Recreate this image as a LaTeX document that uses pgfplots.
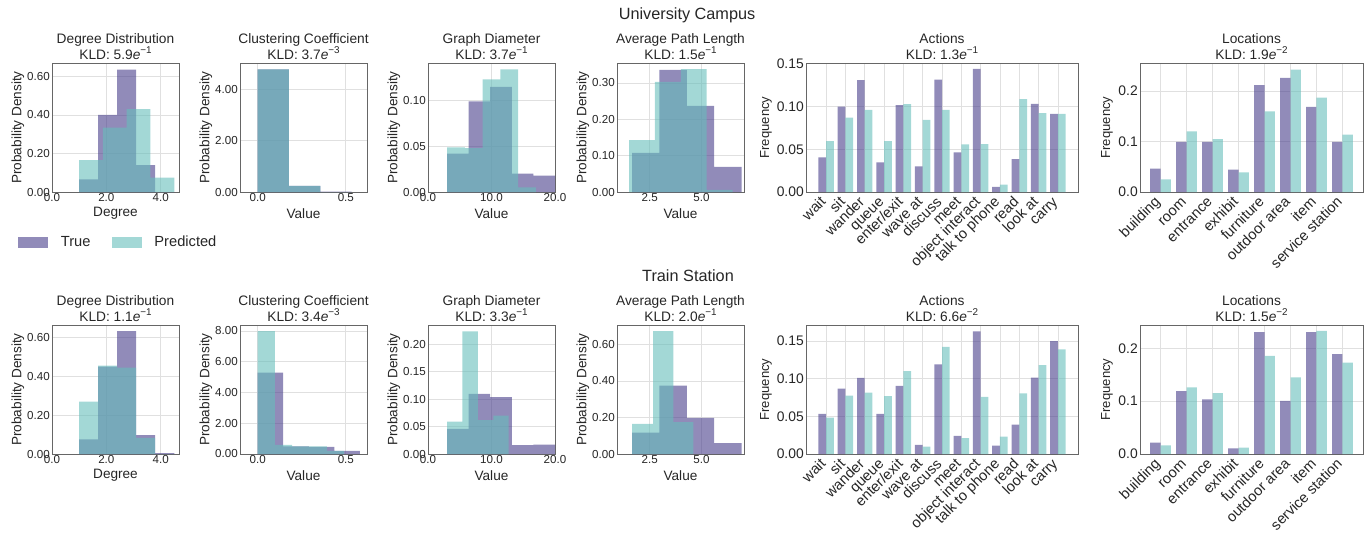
\documentclass[border=0pt]{standalone}
\usepackage{pgfplots}
\usepackage{pgfplotstable}
\pgfplotsset{compat=1.18}
\usepackage{fontspec}
\setmainfont{Liberation Sans}
\setsansfont{Liberation Sans}

\definecolor{trueC}{RGB}{72,61,139}
\definecolor{predC}{RGB}{102,190,187}
\definecolor{txt}{RGB}{38,38,38}

\newcommand{\kld}[2]{KLD: #1\textit{e}\raisebox{0.45em}{\fontsize{7.4}{8}\selectfont −#2}}

\pgfplotsset{
  panel/.style={
    scale only axis, height=96.75pt, anchor=north west,
    axis line style={draw=black!60, line width=0.7pt},
    grid=major, grid style={black!12, line width=0.6pt},
    major tick length=0pt, ymin=0,
    /pgf/number format/assume math mode=true,
    tick label style={font=\fontsize{8.7}{10}\selectfont, text=txt},
    yticklabel style={inner xsep=1.5pt},
    label style={font=\fontsize{10.2}{12}\selectfont, text=txt},
    title style={font=\fontsize{10.3}{12.3}\selectfont, text=txt, align=center, yshift=-7pt},
  },
  hist/.style={panel, width=95.25pt, ylabel={Probability Density},
    ylabel style={at={(axis description cs:-0.268,0.5)}, anchor=center},
    xlabel style={at={(axis description cs:0.5,-0.165)}, anchor=center},
    xticklabel style={inner ysep=1pt},
    yticklabel style={/pgf/number format/.cd, fixed, fixed zerofill, precision=2},
    xticklabel style={/pgf/number format/.cd, fixed, fixed zerofill, precision=1},
  },
  bars/.style={panel, ylabel={Frequency},
    ylabel style={font=\fontsize{9.8}{11}\selectfont, anchor=center},
    tick label style={font=\fontsize{10.4}{12}\selectfont},
    xticklabel style={yshift=-8pt, xshift=0.5pt, rotate=45, anchor=base east, inner sep=0pt,
      font=\fontsize{11}{12}\selectfont},
    yticklabel style={/pgf/number format/.cd, fixed, fixed zerofill, precision=2},
  },
  tr/.style={ybar interval, fill=trueC, fill opacity=0.6, draw=none},
  pr/.style={ybar interval, fill=predC, fill opacity=0.6, draw=none},
  tb/.style={ybar, bar width=0.4, bar shift=0pt, fill=trueC, fill opacity=0.6, draw=none},
  pb/.style={ybar, bar width=0.4, bar shift=0pt, fill=predC, fill opacity=0.6, draw=none},
}

% actions: true / predicted frequencies
\pgfplotstableread{
i t p
0  0.0405 0.0597
1  0.1000 0.0872
2  0.1310 0.0962
3  0.0346 0.0597
4  0.1017 0.1030
5  0.0300 0.0844
6  0.1316 0.0962
7  0.0463 0.0558
8  0.1440 0.0560
9  0.0059 0.0086
10 0.0385 0.1088
11 0.1033 0.0923
12 0.0915 0.0915
}\actTop
\pgfplotstableread{
i t p
0  0.0534 0.0485
1  0.0868 0.0775
2  0.1010 0.0815
3  0.0534 0.0770
4  0.0904 0.1100
5  0.0120 0.0098
6  0.1190 0.1425
7  0.0240 0.0210
8  0.1630 0.0760
9  0.0110 0.0230
10 0.0390 0.0806
11 0.1015 0.1180
12 0.1500 0.1390
}\actBot
\pgfplotstableread{
i t p
0 0.0464 0.0252
1 0.0993 0.1205
2 0.0993 0.1050
3 0.0444 0.0390
4 0.2120 0.1600
5 0.2265 0.2430
6 0.1690 0.1874
7 0.0993 0.1140
}\locTop
\pgfplotstableread{
i t p
0 0.0216 0.0165
1 0.1190 0.1260
2 0.1035 0.1150
3 0.0108 0.0120
4 0.2305 0.1854
5 0.1003 0.1448
6 0.2305 0.2330
7 0.1890 0.1730
}\locBot

\def\actnames{wait,sit,wander,queue,enter/exit,wave at,discuss,meet,object interact,talk to phone,read,look at,carry}
\def\locnames{building,room,entrance,exhibit,furniture,outdoor area,item,service station}

\begin{document}
\begin{tikzpicture}
\path[use as bounding box] (0,0) rectangle (1026.75pt,-399.75pt);

\node[font=\fontsize{12.2}{14}\selectfont, text=txt] at (515.25pt,-11.25pt) {University Campus};
\node[font=\fontsize{12.2}{14}\selectfont, text=txt] at (516pt,-207pt) {Train Station};

% ---------------- top row ----------------
\begin{axis}[hist, at={(39pt,-47.25pt)}, xmin=0, xmax=4.675, ymax=0.67,
  xtick={0,2,4}, ytick={0,0.2,0.4,0.6}, xlabel={Degree},
  title={Degree Distribution\\\kld{5.9}{1}},
  legend style={at={(-0.30,-0.388)}, anchor=west, draw=none, fill=none,
    font=\fontsize{11}{13}\selectfont, text=txt, legend columns=2,
    /tikz/every even column/.append style={column sep=14pt}},
  legend image code/.code={\fill[#1, draw=none] (0pt,-4.1pt) rectangle (22.5pt,4.1pt); \path[draw=none, fill=none] (22.5pt,0pt) -- (30pt,0pt);}]
\addplot[tr, forget plot] coordinates {(1,0.065) (1.7,0.40) (2.4,0.635) (3.1,0.14) (3.8,0) (4.5,0)};
\addplot[pr, forget plot] coordinates {(1,0.165) (1.875,0.335) (2.75,0.43) (3.625,0.075) (4.5,0)};
\addlegendimage{fill=trueC, fill opacity=0.6}
\addlegendentry{True}
\addlegendimage{fill=predC, fill opacity=0.6}
\addlegendentry{Predicted}
\end{axis}

\begin{axis}[hist, at={(180pt,-47.25pt)}, xmin=-0.1, xmax=0.62, ymax=5.03,
  xtick={0,0.5}, ytick={0,2,4}, xlabel={Value},
  title={Clustering Coefficient\\\kld{3.7}{3}}]
\addplot[tr] coordinates {(0,4.78) (0.177,0.24) (0.355,0.012) (0.533,0)};
\addplot[pr] coordinates {(0,4.78) (0.177,0.24) (0.355,0.0) (0.533,0)};
\end{axis}

\begin{axis}[hist, at={(321pt,-47.25pt)}, xmin=0, xmax=20, ymax=0.141,
  xtick={0,10,20}, ytick={0,0.05,0.1}, xlabel={Value},
  title={Graph Diameter\\\kld{3.7}{1}}]
\addplot[tr] coordinates {(3,0.042) (6.4,0.099) (9.8,0.115) (13.2,0.02) (16.6,0.018) (20,0)};
\addplot[pr] coordinates {(3,0.0487) (5.8,0.048) (8.6,0.123) (11.4,0.134) (14.2,0.005) (17,0)};
\end{axis}

\begin{axis}[hist, at={(462.75pt,-47.25pt)}, xmin=0.92, xmax=7.05, ymax=0.355,
  xtick={2.5,5}, ytick={0,0.1,0.2,0.3}, xlabel={Value},
  title={Average Path Length\\\kld{1.5}{1}}]
\addplot[tr] coordinates {(1.645,0.108) (2.97,0.336) (4.29,0.237) (5.61,0.069) (6.94,0)};
\addplot[pr] coordinates {(1.5,0.143) (2.75,0.303) (4.0,0.338) (5.25,0.006) (6.5,0)};
\end{axis}

\begin{axis}[bars, at={(604.5pt,-47.25pt)}, width=204pt, xmin=-1.04, xmax=13.04, ymax=0.151,
  ylabel style={at={(axis description cs:-0.147,0.5)}},
  xtick={0,...,12}, xticklabels/.expand once=\actnames, ytick={0,0.05,0.1,0.15},
  title={Actions\\\kld{1.3}{1}}]
\addplot[tb] table[x expr=\thisrow{i}-0.2, y=t] {\actTop};
\addplot[pb] table[x expr=\thisrow{i}+0.2, y=p] {\actTop};
\end{axis}

\begin{axis}[bars, at={(855pt,-47.25pt)}, width=167.25pt, xmin=-0.79, xmax=7.79, ymax=0.256,
  ylabel style={at={(axis description cs:-0.148,0.5)}},
  xtick={0,...,7}, xticklabels/.expand once=\locnames, ytick={0,0.1,0.2},
  yticklabel style={/pgf/number format/precision=1},
  title={Locations\\\kld{1.9}{2}}]
\addplot[tb] table[x expr=\thisrow{i}-0.2, y=t] {\locTop};
\addplot[pb] table[x expr=\thisrow{i}+0.2, y=p] {\locTop};
\end{axis}

% ---------------- bottom row ----------------
\begin{axis}[hist, at={(39pt,-243.75pt)}, xmin=0, xmax=4.675, ymax=0.665,
  xtick={0,2,4}, ytick={0,0.2,0.4,0.6}, xlabel={Degree},
  title={Degree Distribution\\\kld{1.1}{1}}]
\addplot[tr] coordinates {(1,0.076) (1.7,0.45) (2.4,0.633) (3.1,0.098) (3.8,0.005) (4.5,0)};
\addplot[pr] coordinates {(1,0.27) (1.7,0.455) (2.4,0.445) (3.1,0.083) (3.8,0) (4.5,0)};
\end{axis}

\begin{axis}[hist, at={(180pt,-243.75pt)}, xmin=-0.1, xmax=0.62, ymax=8.39,
  xtick={0,0.5}, ytick={0,2,4,6,8}, xlabel={Value},
  title={Clustering Coefficient\\\kld{3.4}{3}}]
\addplot[tr] coordinates {(0,5.3) (0.145,0.5) (0.29,0.47) (0.435,0.2) (0.58,0)};
\addplot[pr] coordinates {(0,8.0) (0.098,0.6) (0.196,0.5) (0.294,0.5) (0.392,0.2) (0.49,0)};
\end{axis}

\begin{axis}[hist, at={(321pt,-243.75pt)}, xmin=0, xmax=20, ymax=0.2355,
  xtick={0,10,20}, ytick={0,0.05,0.1,0.15,0.2}, xlabel={Value},
  title={Graph Diameter\\\kld{3.3}{1}}]
\addplot[tr] coordinates {(3,0.046) (6.4,0.11) (9.8,0.104) (13.2,0.016) (16.6,0.017) (20,0)};
\addplot[pr] coordinates {(3,0.059) (5.43,0.224) (7.86,0.062) (10.29,0.07) (12.71,0)};
\end{axis}

\begin{axis}[hist, at={(462.75pt,-243.75pt)}, xmin=0.92, xmax=7.05, ymax=0.706,
  xtick={2.5,5}, ytick={0,0.2,0.4,0.6}, xlabel={Value},
  title={Average Path Length\\\kld{2.0}{1}}]
\addplot[tr] coordinates {(1.645,0.117) (2.97,0.374) (4.29,0.198) (5.61,0.06) (6.94,0)};
\addplot[pr] coordinates {(1.645,0.165) (2.66,0.673) (3.64,0.175) (4.6,0)};
\end{axis}

\begin{axis}[bars, at={(604.5pt,-243.75pt)}, width=204pt, xmin=-1.04, xmax=13.04, ymax=0.1714,
  ylabel style={at={(axis description cs:-0.147,0.5)}},
  xtick={0,...,12}, xticklabels/.expand once=\actnames, ytick={0,0.05,0.1,0.15},
  title={Actions\\\kld{6.6}{2}}]
\addplot[tb] table[x expr=\thisrow{i}-0.2, y=t] {\actBot};
\addplot[pb] table[x expr=\thisrow{i}+0.2, y=p] {\actBot};
\end{axis}

\begin{axis}[bars, at={(855pt,-243.75pt)}, width=167.25pt, xmin=-0.79, xmax=7.79, ymax=0.244,
  ylabel style={at={(axis description cs:-0.148,0.5)}},
  xtick={0,...,7}, xticklabels/.expand once=\locnames, ytick={0,0.1,0.2},
  yticklabel style={/pgf/number format/precision=1},
  title={Locations\\\kld{1.5}{2}}]
\addplot[tb] table[x expr=\thisrow{i}-0.2, y=t] {\locBot};
\addplot[pb] table[x expr=\thisrow{i}+0.2, y=p] {\locBot};
\end{axis}
\end{tikzpicture}
\end{document}
